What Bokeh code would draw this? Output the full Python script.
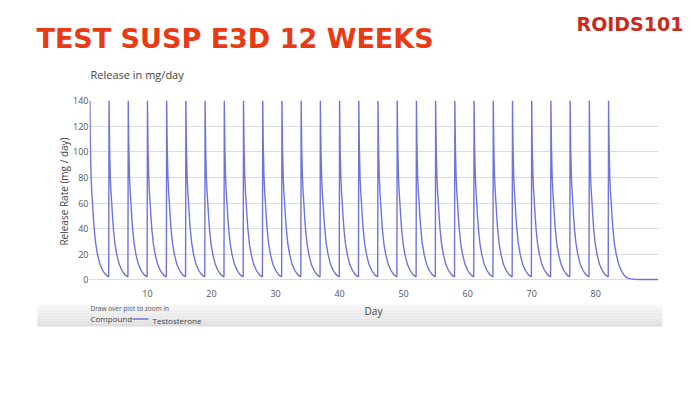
from bokeh.plotting import figure
from bokeh.models import Label, Range1d, FixedTicker
from bokeh.layouts import column
from bokeh.embed import file_html
from bokeh.resources import INLINE

# ---- data ----
injection_days = [1, 4, 7, 10, 13, 16, 19, 22, 25, 28, 31, 34, 37, 40,
                  43, 46, 49, 52, 55, 58, 61, 64, 67, 70, 73, 76, 79, 82]
# one dosing cycle (days after injection -> mg/day)
cycle_offsets = [0, 0.05, 0.1, 0.2, 0.3, 0.42, 0.55, 0.68, 0.9, 1.2, 1.6, 2.0, 2.5, 2.95]
cycle_values = [140, 118, 100, 80, 69, 60, 49, 40, 29, 20, 12, 7.5, 4, 2.4]
# after the last injection
tail_offsets = [0, 0.05, 0.1, 0.2, 0.3, 0.42, 0.55, 0.68, 0.9, 1.2, 1.6, 2.0, 2.5, 3.0, 3.5, 4.0, 5.0, 6.0, 7.8]
tail_values = [140, 118, 100, 80, 69, 60, 49, 40, 29, 20, 12, 7, 3.2, 1.4, 0.8, 0.5, 0.35, 0.3, 0.3]
y_ticks = [0, 20, 40, 60, 80, 100, 120, 140]
x_ticks = [10, 20, 30, 40, 50, 60, 70, 80]

xs, ys = [], []
for i, d in enumerate(injection_days):
    if i < len(injection_days) - 1:
        offs, vals = cycle_offsets, cycle_values
    else:
        offs, vals = tail_offsets, tail_values
    xs += [d + o for o in offs]
    ys += vals

W = 700
TOP_H = 94
CH_H = 210
BOT_H = 393 - TOP_H - CH_H
LINE_COL = "#6f74dc"


def deco_fig(h):
    f = figure(width=W, height=h, output_backend="svg", toolbar_location=None,
               x_range=Range1d(0, W), y_range=Range1d(h, 0),
               x_axis_location=None, y_axis_location=None, frame_align=False,
               min_border=0, background_fill_color="white", border_fill_color="white")
    f.outline_line_color = None
    f.grid.visible = False
    return f


def lab(f, x, y, text, size, color, font="Open Sans", style="normal", anchor="left"):
    f.add_layout(Label(x=x, y=y, text=text, text_font=font, text_font_size=size,
                       text_color=color, text_font_style=style,
                       text_baseline="middle", text_align=anchor))


# ---- header ----
top = deco_fig(TOP_H)
lab(top, 36, 38, "TEST SUSP E3D 12 WEEKS", "27px", "#e83a14", font="DejaVu Sans", style="bold")
lab(top, 576, 23, "ROIDS101", "19px", "#c92b1c", font="DejaVu Sans", style="bold")
lab(top, 90, 74, "Release in mg/day", "11px", "#444444")

# ---- chart ----
p = figure(width=W, height=CH_H, output_backend="svg", toolbar_location=None,
           x_range=Range1d(0.95, 89.8), y_range=Range1d(-2, 140), frame_align=False,
           min_border_left=89, min_border_right=42, min_border_top=6, min_border_bottom=22,
           background_fill_color="white", border_fill_color="white")
p.outline_line_color = None
p.line(xs, ys, line_color=LINE_COL, line_width=1.4)

p.xgrid.grid_line_color = None
p.ygrid.grid_line_color = "#dcdcdc"
p.ygrid.grid_line_width = 1

p.yaxis.ticker = FixedTicker(ticks=y_ticks)
p.xaxis.ticker = FixedTicker(ticks=x_ticks)
for ax in (p.xaxis, p.yaxis):
    ax.axis_line_color = None
    ax.major_tick_line_color = None
    ax.minor_tick_line_color = None
    ax.major_tick_out = 0
    ax.major_tick_in = 0
    ax.major_label_text_font = "Open Sans"
    ax.major_label_text_font_size = "9px"
    ax.major_label_text_color = "#555555"
    ax.axis_label_text_font = "Open Sans"
    ax.axis_label_text_font_style = "normal"
    ax.axis_label_text_color = "#444444"
    ax.axis_label_text_font_size = "10px"
p.yaxis.major_label_standoff = 1
p.xaxis.major_label_standoff = 7
p.yaxis.axis_label = "Release Rate (mg / day)"
p.yaxis.axis_label_standoff = -1

# ---- footer (grey strip, legend, x axis title) ----
bot = deco_fig(BOT_H)
y0p = TOP_H + CH_H  # page y of footer top
strip_top, strip_bot = 301, 326
n = 16
lefts, rights, tops, bottoms, cols = [], [], [], [], []
for k in range(n):
    a = strip_top + (strip_bot - strip_top) * k / n
    b = strip_top + (strip_bot - strip_top) * (k + 1) / n
    if b <= y0p:
        continue
    g = int(254 - (254 - 221) * (k + 1) / n)
    lefts.append(37)
    rights.append(662)
    tops.append(max(a, y0p) - y0p)
    bottoms.append(b - y0p)
    cols.append("#%02x%02x%02x" % (g, g, g))
bot.quad(left=lefts, right=rights, top=tops, bottom=bottoms, fill_color=cols, line_color=None)

lab(bot, 373, 310 - y0p, "Day", "10px", "#444444", anchor="center")
lab(bot, 90, 308 - y0p, "Draw over plot to zoom in", "6.5px", "#555555")
lab(bot, 90, 318 - y0p, "Compound", "8px", "#444444")
lab(bot, 152, 320 - y0p, "Testosterone", "8px", "#444444")
bot.line([132, 148], [318.5 - y0p, 318.5 - y0p], line_color=LINE_COL, line_width=1.5)

layout = column(top, p, bot, spacing=0)
open("out.html", "w").write(file_html(layout, INLINE))
